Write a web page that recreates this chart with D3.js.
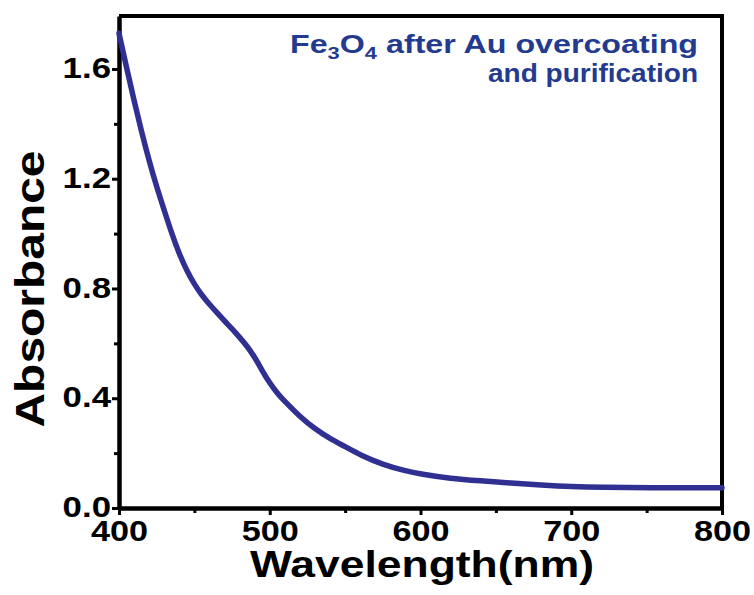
<!DOCTYPE html>
<html>
<head>
<meta charset="utf-8">
<script src="https://cdn.jsdelivr.net/npm/d3@7"></script>
<style>
  body { margin: 0; background: #fff; }
</style>
</head>
<body>
<div id="chart"></div>
<script>
// absorbance spectrum
const wavelength = [400, 405, 410, 415, 420, 425, 430, 435, 440, 445, 450, 455, 460, 465, 470, 475, 480, 485, 490, 495,
    500, 505, 510, 520, 530, 540, 550, 560, 575, 590, 600, 620, 640, 660, 680, 700, 720, 750, 800];
const absorbance = [1.73, 1.605, 1.485, 1.37, 1.265, 1.17, 1.085, 1.0, 0.925, 0.865, 0.815, 0.775, 0.742, 0.712, 0.682, 0.653, 0.622, 0.59, 0.55, 0.5,
    0.455, 0.418, 0.388, 0.333, 0.288, 0.252, 0.224, 0.193, 0.158, 0.135, 0.124, 0.107, 0.099, 0.091, 0.084, 0.078, 0.075, 0.074, 0.074];

const xMajor = [400, 500, 600, 700, 800];
const xMinor = [450, 550, 650, 750];
const yMajor = [0.0, 0.4, 0.8, 1.2, 1.6];
const yMinor = [0.2, 0.6, 1.0, 1.4];

const margin = { top: 16, right: 32, bottom: 87, left: 119 };
const W = 754, H = 595;
const w = W - margin.left - margin.right;
const h = H - margin.top - margin.bottom;
const FONT = "'Liberation Sans', Arimo, Arial, sans-serif";

const svg = d3.select("#chart").append("svg")
    .attr("width", W)
    .attr("height", H)
    .style("font-family", FONT);

const g = svg.append("g")
    .attr("transform", `translate(${margin.left},${margin.top})`);

const x = d3.scaleLinear().domain([400, 800]).range([0, w]);
const y = d3.scaleLinear().domain([0, 1.793]).range([h, 0]);

// text in the original is wider than its height suggests
function stretch(sel, k) {
    sel.each(function () {
        const len = this.getComputedTextLength();
        d3.select(this).attr("textLength", len * k).attr("lengthAdjust", "spacingAndGlyphs");
    });
}

// frame (top + right)
g.append("path")
    .attr("d", `M0,0H${w}V${h}`)
    .attr("fill", "none")
    .attr("stroke", "#000")
    .attr("stroke-width", 4);

// minor ticks
g.append("g")
    .attr("transform", `translate(0,${h})`)
    .call(d3.axisBottom(x).tickValues(xMinor).tickSize(5).tickFormat(""))
    .call(a => a.select(".domain").remove())
    .call(a => a.selectAll("line").attr("stroke-width", 3));
g.append("g")
    .call(d3.axisLeft(y).tickValues(yMinor).tickSize(5).tickFormat(""))
    .call(a => a.select(".domain").remove())
    .call(a => a.selectAll("line").attr("stroke-width", 3));

// x axis
const xAxis = g.append("g")
    .attr("transform", `translate(0,${h})`)
    .call(d3.axisBottom(x).tickValues(xMajor).tickSize(7).tickSizeOuter(0).tickPadding(5));
xAxis.select(".domain").attr("stroke-width", 4.5);
xAxis.selectAll("line").attr("stroke-width", 3);
xAxis.selectAll("text")
    .style("font-family", FONT)
    .attr("font-weight", "bold")
    .attr("font-size", 29)
    .attr("fill", "#000")
    .call(stretch, 1.18);

// y axis
const yAxis = g.append("g")
    .call(d3.axisLeft(y).tickValues(yMajor).tickSize(7).tickSizeOuter(0).tickPadding(1).tickFormat(d3.format(".1f")));
yAxis.select(".domain").attr("stroke-width", 4.5);
yAxis.selectAll("line").attr("stroke-width", 3);
yAxis.selectAll("text")
    .style("font-family", FONT)
    .attr("font-weight", "bold")
    .attr("font-size", 29)
    .attr("fill", "#000")
    .attr("dy", "0.3em")
    .call(stretch, 1.2);

// spectrum
const line = d3.line()
    .x((d, i) => x(wavelength[i]))
    .y(d => y(d))
    .curve(d3.curveBasis);

g.append("path")
    .datum(absorbance)
    .attr("d", line)
    .attr("fill", "none")
    .attr("stroke", "#2f3091")
    .attr("stroke-width", 5.5)
    .attr("stroke-linejoin", "round")
    .attr("stroke-linecap", "round");

// axis titles
svg.append("text")
    .attr("x", 422)
    .attr("y", 577)
    .attr("text-anchor", "middle")
    .attr("font-weight", "bold")
    .attr("font-size", 36)
    .attr("fill", "#000")
    .attr("textLength", 344)
    .attr("lengthAdjust", "spacingAndGlyphs")
    .text("Wavelength(nm)");

svg.append("text")
    .attr("transform", "translate(44,289) rotate(-90)")
    .attr("text-anchor", "middle")
    .attr("font-weight", "bold")
    .attr("font-size", 40)
    .attr("fill", "#000")
    .attr("textLength", 277)
    .attr("lengthAdjust", "spacingAndGlyphs")
    .text("Absorbance");

// annotation
const note = svg.append("text")
    .attr("x", 698)
    .attr("y", 53)
    .attr("text-anchor", "end")
    .attr("font-weight", "bold")
    .attr("font-size", 25)
    .attr("fill", "#233a8f")
    .attr("textLength", 408)
    .attr("lengthAdjust", "spacingAndGlyphs");
note.append("tspan").text("Fe");
note.append("tspan").attr("font-size", 17).attr("dy", 6).text("3");
note.append("tspan").attr("dy", -6).text("O");
note.append("tspan").attr("font-size", 17).attr("dy", 6).text("4");
note.append("tspan").attr("dy", -6).text(" after Au  overcoating");

svg.append("text")
    .attr("x", 698)
    .attr("y", 82)
    .attr("text-anchor", "end")
    .attr("font-weight", "bold")
    .attr("font-size", 25)
    .attr("fill", "#233a8f")
    .attr("textLength", 210)
    .attr("lengthAdjust", "spacingAndGlyphs")
    .text("and purification");
</script>
</body>
</html>
